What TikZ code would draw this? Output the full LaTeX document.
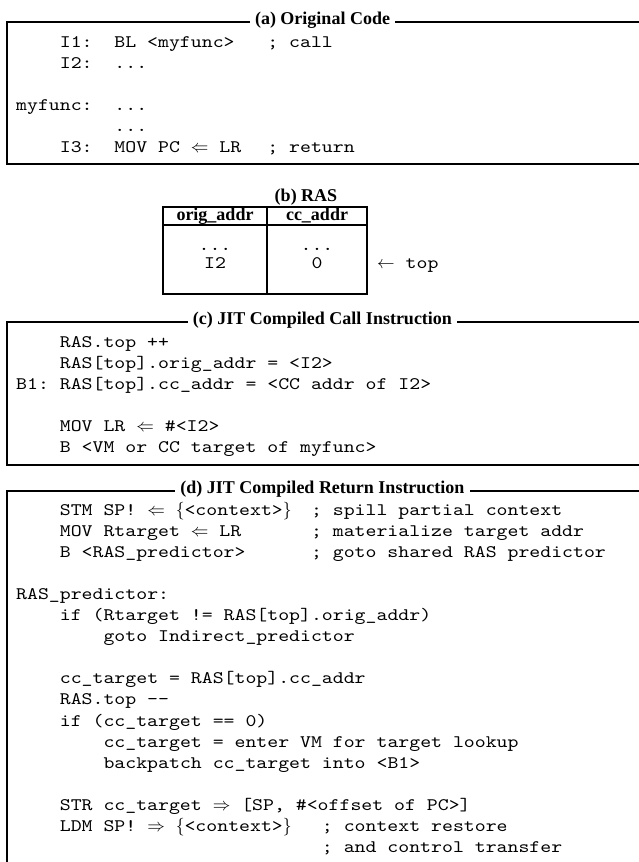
\RequirePackage{fix-cm}
\documentclass[tikz,border=0pt]{standalone}
\usepackage{fontspec}
\setmainfont{Liberation Serif}
\setmonofont{lmmono10-regular.otf}[FakeStretch=1.182]
\newcommand\codefont{\ttfamily\fontsize{17.6}{21}\selectfont}
\newcommand\ttlfont{\rmfamily\bfseries\fontsize{18}{21}\selectfont}
\tikzset{
  code/.style={anchor=base west, inner sep=0pt, font=\codefont},
  ctr/.style={anchor=base, inner sep=0pt, font=\codefont},
  frame/.style={line width=2.2pt, line join=miter},
  ttl/.style={anchor=base, fill=white, inner xsep=5pt, inner ysep=1pt, font=\ttlfont},
  hdr/.style={anchor=base, inner sep=0pt, font=\ttlfont},
  tab/.style={line width=2pt}
}
\begin{document}
\begin{tikzpicture}[x=1pt,y=-1pt]
\useasboundingbox (0,0) rectangle (639,862);
\def\cw{10.92}
% ---------- (a) ----------
\draw[frame] (650,22) -- (7,22) -- (7,164) -- (650,164);
\node[ttl] (ta) at (322.5,24.5) {(a) Original Code};
\node[code] (a1) at ({16+\cw*4},47) {I1:};
\node[code] (a1b) at ({16+\cw*9},47) {BL <myfunc>};
\node[code] (a1c) at ({16+\cw*23},47) {; call};
\node[code] (a2) at ({16+\cw*4},68) {I2:};
\node[code] (a2b) at ({16+\cw*9},68) {...};
\node[code] (a3) at ({16+\cw*0},110) {myfunc:};
\node[code] (a3b) at ({16+\cw*9},110) {...};
\node[code] (a4b) at ({16+\cw*9},131) {...};
\node[code] (a5) at ({16+\cw*4},152) {I3:};
\node[code] (a5b) at ({16+\cw*9},152) {MOV PC $\Leftarrow$ LR};
\node[code] (a5c) at ({16+\cw*23},152) {; return};
% ---------- (b) ----------
\node[hdr] (tb) at (306,201) {(b) RAS};
\draw[tab] (163,207) rectangle (367,294);
\draw[tab] (163,225) -- (367,225);
\draw[line width=2.6pt] (267,207) -- (267,294);
\node[hdr] (h1) at (215,220) {orig\_addr};
\node[hdr] (h2) at (317,220) {cc\_addr};
\node[ctr] (r1a) at (215,250) {...};
\node[ctr] (r1b) at (317,250) {...};
\node[ctr] (r2a) at (215,268) {I2};
\node[ctr] (r2b) at (317,268) {0};
\node[code] (topl) at (377,268) {$\leftarrow$ top};
% ---------- (c) ----------
\draw[frame] (650,322) -- (7,322) -- (7,465) -- (650,465);
\node[ttl] (tc) at (322.5,324.5) {(c) JIT Compiled Call Instruction};
\node[code] (c1) at ({16+\cw*4},347) {RAS.top ++};
\node[code] (c2) at ({16+\cw*4},368) {RAS[top].orig\_addr = <I2>};
\node[code] (c3) at ({16+\cw*0},389) {B1: RAS[top].cc\_addr = <CC addr of I2>};
\node[code] (c4) at ({16+\cw*4},431) {MOV LR $\Leftarrow$ \#<I2>};
\node[code] (c5) at ({16+\cw*4},452) {B <VM or CC target of myfunc>};
% ---------- (d) ----------
\draw[frame] (650,491) -- (7,491) -- (7,880);
\node[ttl] (td) at (322.5,493.5) {(d) JIT Compiled Return Instruction};
\def\pd{21.1}
\node[code] (d0) at ({16+\cw*4},{515+\pd*0}) {STM SP! $\Leftarrow$ $\{$<context>$\}$};
\node[code] (d0c) at ({16+\cw*27},{515+\pd*0}) {; spill partial context};
\node[code] (d1) at ({16+\cw*4},{515+\pd*1}) {MOV Rtarget $\Leftarrow$ LR};
\node[code] (d1c) at ({16+\cw*27},{515+\pd*1}) {; materialize target addr};
\node[code] (d2) at ({16+\cw*4},{515+\pd*2}) {B <RAS\_predictor>};
\node[code] (d2c) at ({16+\cw*27},{515+\pd*2}) {; goto shared RAS predictor};
\node[code] (d4) at ({16+\cw*0},{515+\pd*4}) {RAS\_predictor:};
\node[code] (d5) at ({16+\cw*4},{515+\pd*5}) {if (Rtarget != RAS[top].orig\_addr)};
\node[code] (d6) at ({16+\cw*8},{515+\pd*6}) {goto Indirect\_predictor};
\node[code] (d8) at ({16+\cw*4},{515+\pd*8}) {cc\_target = RAS[top].cc\_addr};
\node[code] (d9) at ({16+\cw*4},{515+\pd*9}) {RAS.top -{}-};
\node[code] (d10) at ({16+\cw*4},{515+\pd*10}) {if (cc\_target == 0)};
\node[code] (d11) at ({16+\cw*8},{515+\pd*11}) {cc\_target = enter VM for target lookup};
\node[code] (d12) at ({16+\cw*8},{515+\pd*12}) {backpatch cc\_target into <B1>};
\node[code] (d14) at ({16+\cw*4},{515+\pd*14}) {STR cc\_target $\Rightarrow$ [SP, \#<offset of PC>]};
\node[code] (d15) at ({16+\cw*4},{515+\pd*15}) {LDM SP! $\Rightarrow$ $\{$<context>$\}$};
\node[code] (d15c) at ({16+\cw*28},{515+\pd*15}) {; context restore};
\node[code] (d16c) at ({16+\cw*28},{515+\pd*16}) {; and control transfer};
\end{tikzpicture}
\end{document}
